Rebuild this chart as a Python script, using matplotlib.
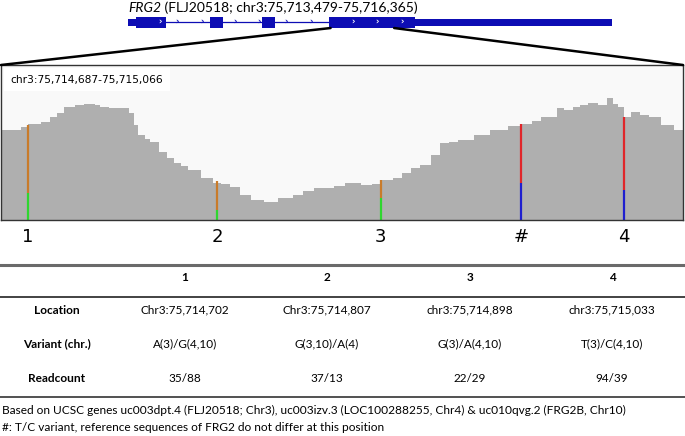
import numpy as np
import matplotlib
matplotlib.use('Agg')
import matplotlib.pyplot as plt
from matplotlib.patches import Rectangle, ConnectionPatch

# gene model (UCSC, chr3)
gene_start, gene_end = 75713479, 75716365
utr5 = (75713479, 75713527)
exons = [(75713527, 75713706), (75713968, 75714045), (75714278, 75714356), (75714678, 75715190)]
utr3 = (75715190, 75716365)
chevrons = [75713670, 75713771, 75713920, 75714117, 75714260, 75714421, 75714570,
            75714821, 75714964, 75715113]

# zoomed region + coverage (offset in bp, depth)
reg_start, reg_end = 75714687, 75715066
cov_off = [0, 5, 11, 15, 22, 27, 31, 35, 41, 46, 52, 55, 60, 65, 71, 74, 76, 80, 83, 88, 92,
           96, 100, 104, 111, 118, 122, 127, 133, 139, 146, 154, 162, 168, 174, 185, 191, 200,
           206, 211, 218, 223, 228, 233, 239, 244, 249, 254, 263, 272, 282, 289, 295, 300,
           309, 313, 318, 322, 326, 332, 337, 340, 343, 346, 350, 355, 360, 367, 374, 379]
cov_dep = [116, 116, 120, 124, 126, 133, 138, 146, 148, 150, 149, 146, 145, 144, 138, 123, 110,
           104, 101, 88, 80, 74, 70, 65, 54, 48, 47, 43, 32, 26, 23, 28, 32, 37, 41, 44, 48, 45,
           47, 51, 54, 60, 67, 71, 84, 99, 101, 103, 110, 116, 121, 124, 128, 133, 144, 142,
           146, 149, 151, 148, 157, 150, 146, 133, 139, 136, 133, 123, 116, 115]

# variants: label, position, base counts (bottom, top) and colours
var_labels = ['1', '2', '3', '#', '4']
var_pos = [75714702, 75714807, 75714898, 75714976, 75715033]
var_low = [35, 13, 29, 48, 39]
var_high = [88, 37, 22, 76, 94]
var_low_col = ['#2fd62f', '#2fd62f', '#2fd62f', '#1f1fcf', '#1f1fcf']
var_high_col = ['#c97b2a', '#c97b2a', '#c97b2a', '#e0262a', '#e0262a']

# table
col_head = ['1', '2', '3', '4']
row_names = ['Location', 'Variant (chr.)', 'Readcount']
location = ['Chr3:75,714,702', 'Chr3:75,714,807', 'chr3:75,714,898', 'chr3:75,715,033']
variant = ['A(3)/G(4,10)', 'G(3,10)/A(4)', 'G(3)/A(4,10)', 'T(3)/C(4,10)']
readcount = ['35/88', '37/13', '22/29', '94/39']
notes = ['Based on UCSC genes uc003dpt.4 (FLJ20518; Chr3), uc003izv.3 (LOC100288255, Chr4) & uc010qvg.2 (FRG2B, Chr10)',
         '#: T/C variant, reference sequences of FRG2 do not differ at this position']

W, H = 685, 436
fig = plt.figure(figsize=(W / 100, H / 100), dpi=100)


def box(x0, y0, x1, y1):
    return [x0 / W, 1 - y1 / H, (x1 - x0) / W, (y1 - y0) / H]


# overlay in pixel coords for table and footnotes
ax0 = fig.add_axes([0, 0, 1, 1])
ax0.set_xlim(0, W)
ax0.set_ylim(H, 0)
ax0.axis('off')

# gene track
blue = '#0d0db4'
axg = fig.add_axes(box(128, 14, 612, 31))
axg.set_xlim(gene_start, gene_end)
axg.set_ylim(-1, 1)
axg.axis('off')
axg.plot([exons[0][1], exons[-1][0]], [0, 0], color=blue, lw=0.9)
for a, b in [utr5, utr3]:
    axg.add_patch(Rectangle((a, -0.38), b - a, 0.76, color=blue, lw=0))
for a, b in exons:
    axg.add_patch(Rectangle((a, -0.65), b - a, 1.3, color=blue, lw=0))
for c in chevrons:
    on_exon = any(a <= c <= b for a, b in exons)
    axg.text(c, 0, '›', color='white' if on_exon else blue, fontsize=6,
             ha='center', va='center', fontweight='bold')
t1 = ax0.text(128, 8, 'FRG2', fontsize=10, family='Lato', style='italic', va='center')
ax0.annotate(' (FLJ20518; chr3:75,713,479-75,716,365)', xy=(1, 0.5), xycoords=t1,
             fontsize=10, family='Lato', va='center', ha='left')

# coverage panel
axc = fig.add_axes(box(1, 65, 683, 220))
axc.set_facecolor('#f9f9f9')
axc.set_xlim(reg_start, reg_end)
axc.set_ylim(0, 200)
axc.set_xticks([])
axc.set_yticks([])
for s in axc.spines.values():
    s.set_color('#333333')
    s.set_linewidth(1.0)
pos = [reg_start + o for o in cov_off]
axc.fill_between(pos, cov_dep, step='post', color='#afafaf', lw=0)
for lab, p, lo, hi, c1, c2 in zip(var_labels, var_pos, var_low, var_high, var_low_col, var_high_col):
    axc.vlines(p, 0, lo, color=c1, lw=1.6)
    axc.vlines(p, lo, lo + hi, color=c2, lw=1.6)
    axc.annotate(lab, (p, 0), xycoords=('data', 'axes fraction'), xytext=(0, -6),
                 textcoords='offset points', ha='center', va='top', fontsize=13,
                 family='DejaVu Sans')
axc.text(0.014, 0.905, 'chr3:75,714,687-75,715,066', transform=axc.transAxes, fontsize=7.7,
         va='center', family='DejaVu Sans',
         bbox=dict(facecolor='white', edgecolor='none', boxstyle='square,pad=0.6'))

# zoom lines
for gx, cx in [(reg_start, 0), (reg_end, 1)]:
    con = ConnectionPatch(xyA=(gx, -0.65), coordsA=axg.transData, xyB=(cx, 1),
                          coordsB=axc.transAxes, color='black', lw=1.8)
    fig.add_artist(con)

# table
col_x = [57, 185, 327, 470, 612]
row_y = [310, 344, 378]
ax0.plot([0, W], [265, 265], color='#6a6a6a', lw=2.2)
ax0.plot([0, W], [297, 297], color='#222222', lw=1.2)
ax0.plot([0, W], [397, 397], color='#333333', lw=1.2)
for x, h in zip(col_x[1:], col_head):
    ax0.text(x, 277, h, ha='center', va='center', fontsize=8.5, fontweight='bold', family='Lato')
for y, name, vals in zip(row_y, row_names, [location, variant, readcount]):
    ax0.text(col_x[0], y, name, ha='center', va='center', fontsize=8.6, fontweight='bold', family='Lato')
    for x, v in zip(col_x[1:], vals):
        ax0.text(x, y, v, ha='center', va='center', fontsize=8.5, family='Lato')
ax0.text(2, 410, notes[0], ha='left', va='center', fontsize=8.6, family='Lato')
ax0.text(2, 427, notes[1], ha='left', va='center', fontsize=8.6, family='Lato')

fig.savefig('out.png', dpi=100)
